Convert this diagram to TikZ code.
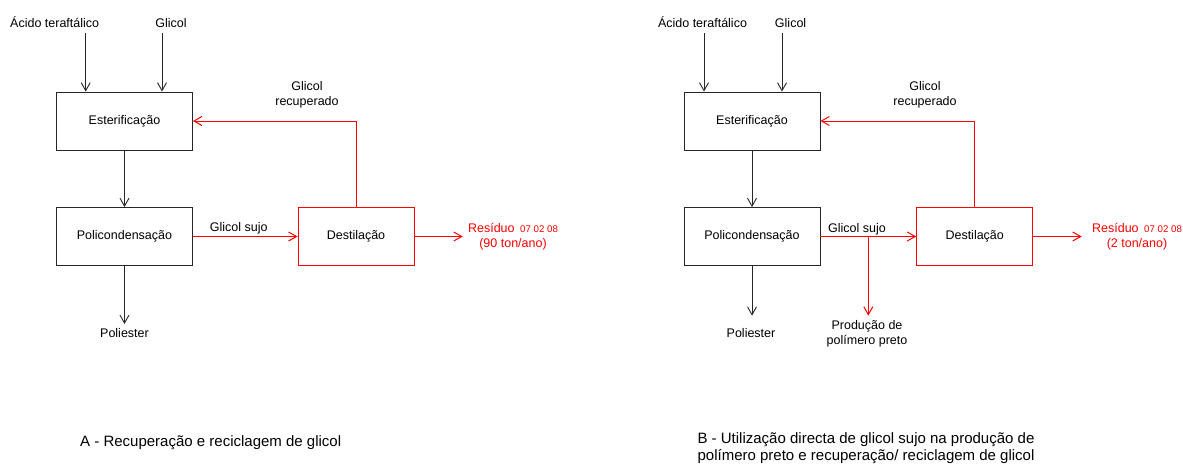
\documentclass[tikz,border=0pt]{standalone}
\usepackage{fontspec}
\setmainfont{Liberation Sans}
\usetikzlibrary{arrows.meta}
\newcommand\fsn{\fontsize{12.5}{14.8}\selectfont}
\newcommand\fss{\fontsize{9.7}{11}\selectfont}
\newcommand\fsc{\fontsize{15}{17}\selectfont}
\begin{document}
\begin{tikzpicture}[x=1pt,y=-1pt,
  procbox/.style={draw=black!85, line width=0.9pt, minimum width=136pt, minimum height=58pt, inner sep=0pt, font=\fsn},
  redbox/.style={draw=red, line width=0.9pt, minimum width=116pt, minimum height=58pt, inner sep=0pt, font=\fsn},
  lbl/.style={inner sep=0pt, font=\fsn, align=center},
  captext/.style={inner sep=0pt, font=\fsc, align=center},
  arr/.style={-{Straight Barb[length=8pt,width=9pt]}, line width=0.9pt, draw=black!85},
  rarr/.style={-{Straight Barb[length=8pt,width=9pt]}, line width=1pt, draw=red}]
\useasboundingbox (0,0) rectangle (1183,464);

% ---------------- A ----------------
\node[procbox] (estA) at (124.5,121) {Esterificação};
\node[procbox] (polA) at (124.5,236.5) {Policondensação};
\node[redbox] (destA) at (356,236.5) {Destilação};

\node[lbl, anchor=base] (acA) at (54.7,27) {Ácido teraftálico};
\node[lbl, anchor=base] (glA) at (171,27) {Glicol};
\coordinate (acAs) at (85.7,33);
\coordinate (glAs) at (162,33);
\draw[arr] (acAs) -- (acAs |- estA.north);
\draw[arr] (glAs) -- (glAs |- estA.north);
\draw[arr] (estA.south) -- (polA.north);

\node[lbl, anchor=base] (poA) at (124.5,337.5) {Poliester};
\coordinate (poAe) at (124.5,324);
\draw[arr] (polA.south) -- (poAe);

\node[lbl, anchor=base] (gsA) at (238.7,231.5) {Glicol sujo};
\draw[rarr] (polA.east) -- (destA.west);

\node[lbl] (grA) at (307,94.5) {Glicol\\recuperado};
\draw[rarr] (destA.north) |- (estA.east);

\coordinate (reAe) at (462.7,236.5);
\draw[rarr] (destA.east) -- (reAe);
\node[lbl, text=red] (reA) at (513,237) {Resíduo\hspace{5.5pt}{\fss 07 02 08}\\(90 ton/ano)};

\node[captext, anchor=base] (capA) at (210.7,446) {A - Recuperação e reciclagem de glicol};

% ---------------- B ----------------
\node[procbox] (estB) at (752,121) {Esterificação};
\node[procbox] (polB) at (752,236.5) {Policondensação};
\node[redbox] (destB) at (974.7,236.5) {Destilação};

\node[lbl, anchor=base] (acB) at (702.5,27) {Ácido teraftálico};
\node[lbl, anchor=base] (glB) at (790.6,27) {Glicol};
\coordinate (acBs) at (704,33);
\coordinate (glBs) at (782,33);
\draw[arr] (acBs) -- (acBs |- estB.north);
\draw[arr] (glBs) -- (glBs |- estB.north);
\draw[arr] (estB.south) -- (polB.north);

\node[lbl, anchor=base] (poB) at (751,337.5) {Poliester};
\coordinate (poBe) at (752,315.7);
\draw[arr] (polB.south) -- (poBe);

\node[lbl, anchor=base] (gsB) at (857,232) {Glicol sujo};
\draw[rarr] (polB.east) -- (destB.west);

\coordinate (brB) at (868.3,236.5);
\coordinate (brBe) at (868.3,315.7);
\draw[rarr] (brB) -- (brBe);
\node[lbl] (ppB) at (867,334) {Produção de\\polímero preto};

\node[lbl] (grB) at (925,94.5) {Glicol\\recuperado};
\draw[rarr] (destB.north) |- (estB.east);

\coordinate (reBe) at (1081.7,236.5);
\draw[rarr] (destB.east) -- (reBe);
\node[lbl, text=red] (reB) at (1137,237) {Resíduo\hspace{5.5pt}{\fss 07 02 08}\\(2 ton/ano)};

\node[captext] (capB) at (866,448.5) {B - Utilização directa de glicol sujo na produção de\\polímero preto e recuperação/ reciclagem de glicol};
\end{tikzpicture}
\end{document}
